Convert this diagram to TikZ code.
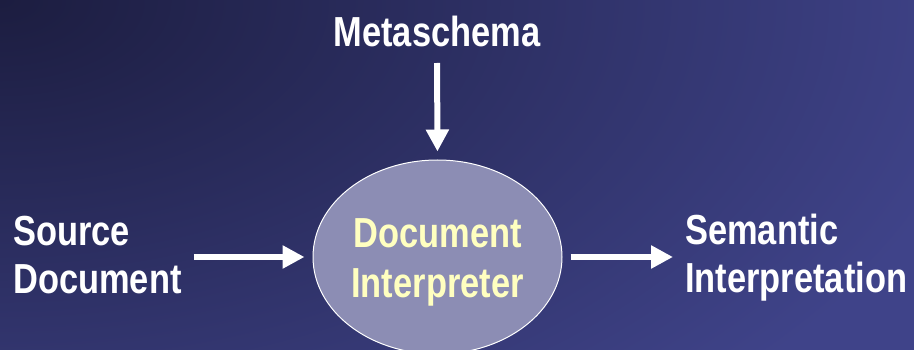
\documentclass[tikz,border=0pt]{standalone}
\usepackage{fontspec}
\setmainfont{Liberation Sans}[FakeStretch=0.82]
\usetikzlibrary{arrows.meta,shapes.geometric}
\definecolor{bgdark}{RGB}{28,29,64}
\definecolor{bgblue}{RGB}{63,67,137}
\definecolor{ovalfill}{RGB}{140,141,180}
\definecolor{ovaltext}{RGB}{255,255,192}
\begin{document}
\begin{tikzpicture}[x=1pt,y=-1pt,
    lbl/.style={text=white,font=\bfseries\fontsize{42}{48}\selectfont,inner sep=0pt,align=left},
    flow/.style={draw=white,line width=6pt,-{Triangle[length=22pt,width=22pt]}}]
                \useasboundingbox (0,0) rectangle (914,350);
                \begin{scope}
                    \clip (0,0) rectangle (914,350);
                    \fill[bgblue] (0,0) rectangle (914,350);
                    \shade[inner color=bgdark,outer color=bgblue] (0,0) ellipse [x radius=1000,y radius=560];
                \end{scope}
                \node[ellipse,draw=white,line width=1pt,fill=ovalfill,minimum width=249pt,minimum height=194pt,inner sep=0pt,
                      label={[lbl,text=ovaltext,align=center,yshift=-5pt,font=\bfseries\fontsize{42}{50}\selectfont]center:Document\\Interpreter}] (interp) at (437.5,257) {};
                \node[lbl,anchor=south] (meta) at (437,47) {Metaschema};
                \node[lbl,anchor=west] (src) at (13,255) {Source\\Document};
                \node[lbl,anchor=west] (sem) at (685,258) {Semantic\\Interpretation};
                \draw[flow,shorten <=16pt,shorten >=8pt] (meta.south) -- (interp.north);
                \draw[flow,shorten <=12pt,shorten >=8pt] (src.east |- interp.west) -- (interp.west);
                \draw[flow,shorten <=8pt,shorten >=12pt] (interp.east) -- (sem.west |- interp.east);
            \end{tikzpicture}
\end{document}
